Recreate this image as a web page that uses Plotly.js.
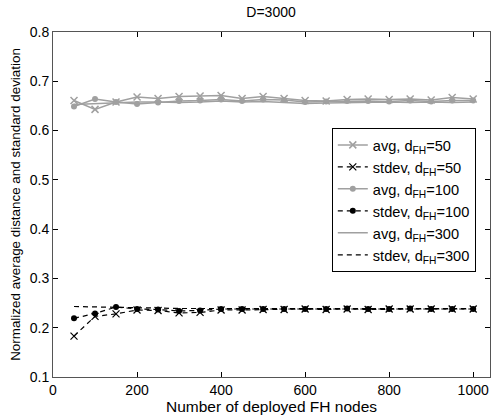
<!DOCTYPE html>
<html>
<head>
<meta charset="utf-8">
<script src="https://cdn.plot.ly/plotly-3.0.1.min.js"></script>
<style>html,body{margin:0;padding:0;background:#fff;}#chart{width:491px;height:420px;}</style>
</head>
<body>
<div id="chart"></div>
<script>
var nodes = [50,100,150,200,250,300,350,400,450,500,550,600,650,700,750,800,850,900,950,1000];
var avg50 = [0.661,0.643,0.658,0.668,0.665,0.669,0.670,0.671,0.665,0.669,0.665,0.661,0.660,0.663,0.664,0.663,0.664,0.662,0.667,0.664];
var stdev50 = [0.183,0.223,0.228,0.236,0.235,0.230,0.231,0.236,0.236,0.237,0.237,0.238,0.237,0.238,0.237,0.238,0.238,0.238,0.238,0.238];
var avg100 = [0.649,0.664,0.658,0.654,0.657,0.660,0.661,0.663,0.660,0.663,0.662,0.658,0.659,0.660,0.660,0.659,0.661,0.659,0.661,0.661];
var stdev100 = [0.219,0.229,0.242,0.238,0.237,0.234,0.235,0.238,0.238,0.238,0.238,0.238,0.238,0.239,0.238,0.238,0.239,0.238,0.238,0.238];
var avg300 = [0.653,0.655,0.656,0.658,0.658,0.657,0.658,0.660,0.658,0.659,0.657,0.655,0.656,0.657,0.657,0.658,0.657,0.658,0.657,0.658];
var stdev300 = [0.243,0.242,0.241,0.240,0.239,0.239,0.239,0.239,0.239,0.239,0.239,0.239,0.239,0.239,0.239,0.239,0.239,0.239,0.239,0.239];
var names = ['avg, d<sub>FH</sub>=50','stdev, d<sub>FH</sub>=50','avg, d<sub>FH</sub>=100','stdev, d<sub>FH</sub>=100','avg, d<sub>FH</sub>=300','stdev, d<sub>FH</sub>=300'];
var xTicks = [0,200,400,600,800,1000];
var yTicks = [0.1,0.2,0.3,0.4,0.5,0.6,0.7,0.8];

var gray = '#a0a0a0';
var traces = [
  {x: nodes, y: avg50, name: names[0], mode: 'lines+markers', line: {color: gray, width: 1.5}, marker: {symbol: 'x-thin-open', size: 7, color: gray, line: {color: gray, width: 1.5}}},
  {x: nodes, y: stdev50, name: names[1], mode: 'lines+markers', line: {color: '#000', width: 1.2, dash: '5px,4px'}, marker: {symbol: 'x-thin-open', size: 7, color: '#000', line: {color: '#000', width: 1.2}}},
  {x: nodes, y: avg100, name: names[2], mode: 'lines+markers', line: {color: gray, width: 1.5}, marker: {symbol: 'circle', size: 6, color: gray}},
  {x: nodes, y: stdev100, name: names[3], mode: 'lines+markers', line: {color: '#000', width: 1.2, dash: '5px,4px'}, marker: {symbol: 'circle', size: 6, color: '#000'}},
  {x: nodes, y: avg300, name: names[4], mode: 'lines', line: {color: gray, width: 1.5}},
  {x: nodes, y: stdev300, name: names[5], mode: 'lines', line: {color: '#000', width: 1.2, dash: '5px,4px'}}
];

var fam = 'Liberation Sans, Arial, sans-serif';
var font = {family: fam, size: 14, color: '#000'};
var layout = {
  width: 491, height: 420,
  margin: {l: 53, r: 1, t: 32, b: 43, pad: 0},
  paper_bgcolor: '#fff', plot_bgcolor: '#fff',
  font: font,
  showlegend: true,
  title: {text: 'D=3000', font: {family: fam, size: 14, color: '#000'}, x: 0.552, xanchor: 'center', y: 0.972, yanchor: 'middle'},
  xaxis: {
    range: [0, 1040], tickvals: xTicks, ticktext: xTicks.map(String),
    ticks: 'inside', ticklen: 5, tickcolor: '#000', mirror: 'allticks',
    showline: true, linecolor: '#555', linewidth: 1, showgrid: false, zeroline: false,
    tickfont: font,
    title: {text: 'Number of deployed FH nodes', font: {family: fam, size: 15.5, color: '#000'}, standoff: 1}
  },
  yaxis: {
    range: [0.1, 0.8], tickvals: yTicks, ticktext: yTicks.map(function(v){return v.toFixed(1);}),
    ticks: 'inside', ticklen: 5, tickcolor: '#000', mirror: 'allticks',
    showline: true, linecolor: '#555', linewidth: 1, showgrid: false, zeroline: false,
    tickfont: font,
    title: {text: 'Normalized average distance and standard deviation', font: {family: fam, size: 13.4, color: '#000'}, standoff: 6}
  },
  legend: {
    x: 0.638, y: 0.722, xanchor: 'left', yanchor: 'top',
    bgcolor: '#fff', bordercolor: '#000', borderwidth: 1,
    font: {family: fam, size: 14.6, color: '#000'}, tracegroupgap: 0, itemwidth: 30
  }
};
Plotly.newPlot('chart', traces, layout, {displayModeBar: false, staticPlot: true});
</script>
</body>
</html>
